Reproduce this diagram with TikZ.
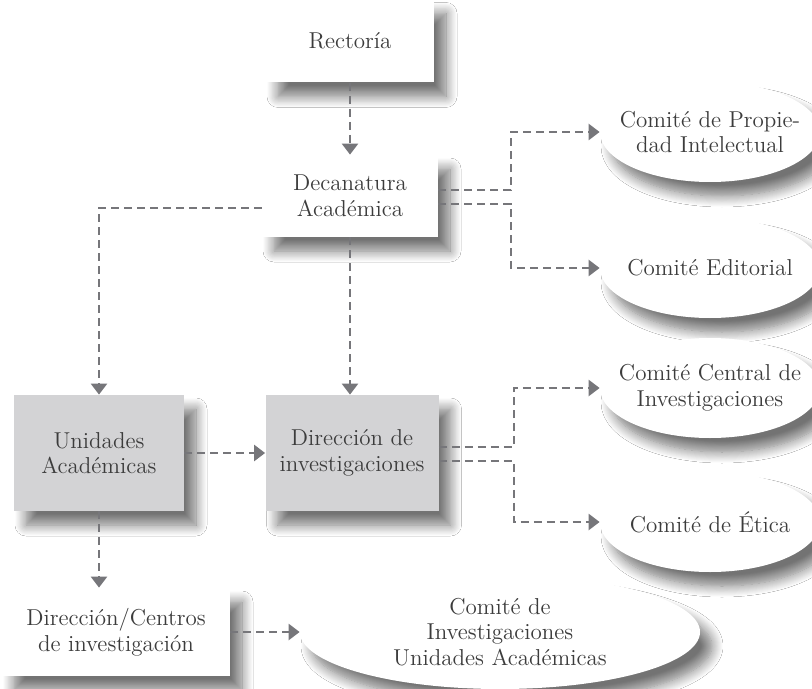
\documentclass[tikz,border=0pt]{standalone}
\usepackage{tikz}
\usetikzlibrary{shapes.geometric,shadows.blur,arrows.meta}
\definecolor{linegray}{HTML}{76767A}
\definecolor{boxgray}{HTML}{D3D3D5}
\definecolor{textgray}{HTML}{3C3C3C}

\begin{document}
\begin{tikzpicture}[x=0.5pt, y=-0.5pt, >={Triangle[length=5.5pt,width=8pt]},
    link/.style={->, draw=linegray, line width=1.3pt, dash pattern=on 4pt off 2.5pt},
    box/.style={rectangle, fill=white, text=textgray, align=center, inner sep=0pt,
      font=\fontsize{11.5}{12.8}\selectfont,
      blur shadow={shadow xshift=6pt, shadow yshift=-7pt, shadow blur radius=5.5pt,
        shadow blur steps=12, shadow opacity=55}},
    graybox/.style={box, fill=boxgray},
    blob/.style={box, ellipse, inner xsep=-8pt, minimum width=110pt, minimum height=50pt}]
    \fill [white] (0,0) rectangle (812,689);
    \useasboundingbox (0,0) rectangle (812,689);
    \node [box, minimum width=84pt, minimum height=41.5pt] (rect) at (350,41) {Rectoría};
    \node [box, minimum width=88pt, minimum height=41pt] (deca) at (350,196) {Decanatura\\Académica};
    \node [graybox, minimum width=85pt, minimum height=58pt] (unid) at (99,453) {Unidades\\Académicas};
    \node [graybox, minimum width=86.5pt, minimum height=58pt] (dinv) at (352,453) {Dirección de\\investigaciones};
    \node [box, minimum width=114pt, minimum height=44pt] (dcen) at (116,632) {Dirección/Centros\\de investigación};
    \node [blob] (cprop) at (710,132) {Comité de Propie-\\dad Intelectual};
    \node [blob] (cedit) at (710,268) {Comité Editorial};
    \node [blob] (ccent) at (710,388) {Comité Central de\\Investigaciones};
    \node [blob] (cetic) at (710,522) {Comité de Ética};
    \node [blob, minimum width=200pt, minimum height=57pt] (cunid) at (500,632) {Comité de\\Investigaciones\\Unidades Académicas};
    \coordinate (forka) at (511,0);
    \coordinate (forkb) at (514,0);
    \draw [link] (rect) -- (deca);
    \draw [link] (deca) -- (deca |- dinv.north);
    \draw [link] ([yshift=-6pt]deca.west) -| (unid.north);
    \draw [link] ([yshift=3pt]deca.east) -- ([yshift=3pt]deca.east -| forka) |- (cprop.west);
    \draw [link] ([yshift=-4pt]deca.east) -- ([yshift=-4pt]deca.east -| forka) |- (cedit.west);
    \draw [link] (unid) -- (dinv);
    \draw [link] ([yshift=3pt]dinv.east) -- ([yshift=3pt]dinv.east -| forkb) |- (ccent.west);
    \draw [link] ([yshift=-4pt]dinv.east) -- ([yshift=-4pt]dinv.east -| forkb) |- (cetic.west);
    \draw [link] (unid.south) -- (unid.south |- dcen.north);
    \draw [link] (dcen) -- (cunid);
\end{tikzpicture}
\end{document}
